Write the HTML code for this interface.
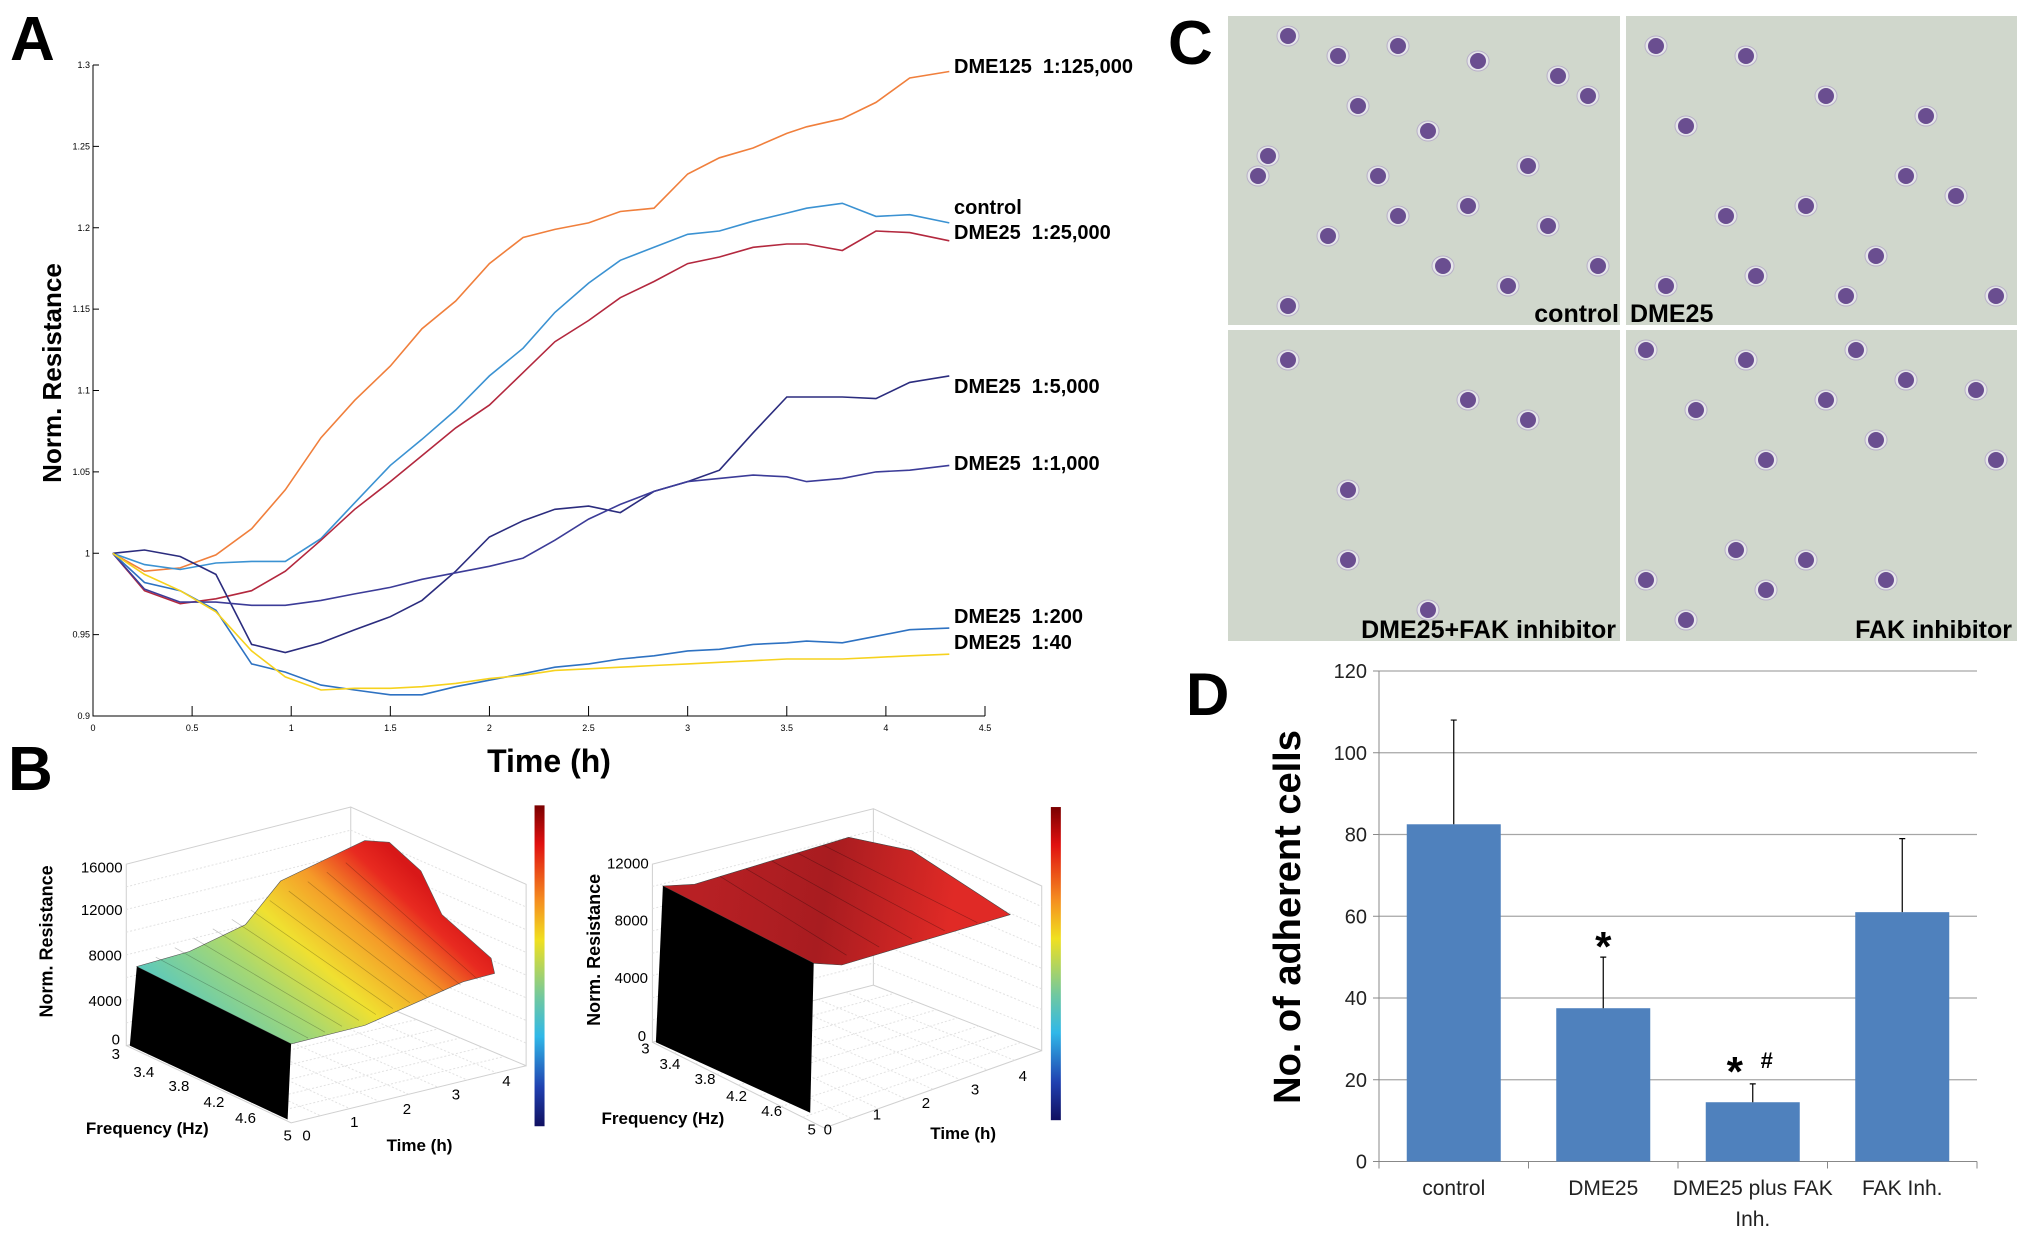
<!DOCTYPE html>
<html><head><meta charset="utf-8"><style>
html,body{margin:0;padding:0;background:#fff;}
svg{display:block;font-family:"Liberation Sans",sans-serif;}
.pre{white-space:pre;}
</style></head><body>
<svg id="fig" width="2031" height="1243" viewBox="0 0 2031 1243" xmlns="http://www.w3.org/2000/svg">
<defs>
<linearGradient id="jet" x1="0" y1="0" x2="0" y2="1">
<stop offset="0" stop-color="#7a0000"/><stop offset="0.12" stop-color="#e01010"/><stop offset="0.3" stop-color="#f59020"/><stop offset="0.42" stop-color="#f0e020"/><stop offset="0.6" stop-color="#70c8a0"/><stop offset="0.72" stop-color="#30b8e8"/><stop offset="0.88" stop-color="#2040b0"/><stop offset="1" stop-color="#101060"/>
</linearGradient>
<linearGradient id="surfL" gradientUnits="userSpaceOnUse" x1="200" y1="1030" x2="380" y2="840">
<stop offset="0" stop-color="#58c8c0"/><stop offset="0.3" stop-color="#a8d870"/><stop offset="0.5" stop-color="#f0e030"/><stop offset="0.72" stop-color="#f59a28"/><stop offset="0.9" stop-color="#e82a20"/><stop offset="1" stop-color="#d81818"/>
</linearGradient>
<linearGradient id="surfR" gradientUnits="userSpaceOnUse" x1="700" y1="880" x2="950" y2="920">
<stop offset="0" stop-color="#b82024"/><stop offset="0.5" stop-color="#a81c20"/><stop offset="1" stop-color="#e02a26"/>
</linearGradient>
</defs>
<g id="panelA"></g>
<g id="panelB"></g>
<g id="panelC"></g>
<g id="panelD"></g>
</svg>
<script>
// ---------- Panel A data ----------
const timesA = [0.1,0.26,0.44,0.62,0.8,0.97,1.15,1.32,1.5,1.66,1.83,2.0,2.17,2.33,2.5,2.66,2.83,3.0,3.16,3.33,3.5,3.6,3.78,3.95,4.12,4.32];
const dme125 = [1.000,0.989,0.991,0.999,1.015,1.039,1.071,1.094,1.115,1.138,1.155,1.178,1.194,1.199,1.203,1.210,1.212,1.233,1.243,1.249,1.258,1.262,1.267,1.277,1.292,1.296];
const control = [1.000,0.993,0.990,0.994,0.995,0.995,1.009,1.031,1.054,1.070,1.088,1.109,1.126,1.148,1.166,1.180,1.188,1.196,1.198,1.204,1.209,1.212,1.215,1.207,1.208,1.203];
const dme25k = [1.000,0.977,0.969,0.972,0.977,0.989,1.008,1.027,1.044,1.060,1.077,1.091,1.111,1.130,1.143,1.157,1.167,1.178,1.182,1.188,1.190,1.190,1.186,1.198,1.197,1.192];
const dme5k = [1.000,1.002,0.998,0.987,0.944,0.939,0.945,0.953,0.961,0.971,0.989,1.010,1.020,1.027,1.029,1.025,1.038,1.044,1.051,1.074,1.096,1.096,1.096,1.095,1.105,1.109];
const dme1k = [1.000,0.978,0.970,0.970,0.968,0.968,0.971,0.975,0.979,0.984,0.988,0.992,0.997,1.008,1.021,1.030,1.038,1.044,1.046,1.048,1.047,1.044,1.046,1.050,1.051,1.054];
const dme200 = [1.000,0.982,0.977,0.965,0.932,0.927,0.919,0.916,0.913,0.913,0.918,0.922,0.926,0.930,0.932,0.935,0.937,0.940,0.941,0.944,0.945,0.946,0.945,0.949,0.953,0.954];
const dme40 = [1.000,0.987,0.977,0.964,0.940,0.924,0.916,0.917,0.917,0.918,0.920,0.923,0.925,0.928,0.929,0.930,0.931,0.932,0.933,0.934,0.935,0.935,0.935,0.936,0.937,0.938];
const xTicksA = ["0","0.5","1","1.5","2","2.5","3","3.5","4","4.5"];
const yTicksA = ["0.9","0.95","1","1.05","1.1","1.15","1.2","1.25","1.3"];
const seriesLabelsA = ["DME125  1:125,000","control","DME25  1:25,000","DME25  1:5,000","DME25  1:1,000","DME25  1:200","DME25  1:40"];
// ---------- Panel D data ----------
const catsD = ["control","DME25","DME25 plus FAK|Inh.","FAK Inh."];
const meansD = [82.5,37.5,14.5,61];
const errD = [25.5,12.5,4.5,18];
const yTicksD = [0,20,40,60,80,100,120];

const NS="http://www.w3.org/2000/svg";
function mk(parent,tag,attrs,text){const e=document.createElementNS(NS,tag);for(const k in attrs)e.setAttribute(k,attrs[k]);if(text!==undefined)e.textContent=text;parent.appendChild(e);return e;}

// ---------- Panel A ----------
(function(){
const g=document.getElementById('panelA');
const x=t=>93+t*(985-93)/4.5;
const y=v=>716-(v-0.9)*(716-65)/0.4;
let t=mk(g,'text',{x:10,y:60,'font-size':62,'font-weight':'bold'},'A');

let ax=mk(g,'path',{d:`M93,65 V716 H985`,stroke:'#000',fill:'none','stroke-width':1});

xTicksA.forEach(s=>{const v=parseFloat(s);const px=x(v);
 mk(g,'line',{x1:px,y1:716,x2:px,y2:706,stroke:'#000'});
 const l=mk(g,'text',{x:px,y:731,'font-size':9,'text-anchor':'middle'},s);
 });
yTicksA.forEach(s=>{const v=parseFloat(s);const py=y(v);
 mk(g,'line',{x1:93,y1:py,x2:99,y2:py,stroke:'#000'});
 const l=mk(g,'text',{x:90,y:py+3,'font-size':9,'text-anchor':'end'},s);
 });
const ser=[[dme125,'#f07f3c','dme125-line'],[control,'#3b92d2','control-line'],[dme25k,'#b3283e','dme25-25000-line'],[dme5k,'#2b2c7e','dme25-5000-line'],[dme1k,'#3c3c98','dme25-1000-line'],[dme200,'#2e72c2','dme25-200-line'],[dme40,'#f6d21e','dme25-40-line']];
ser.forEach(([vals,col,nm])=>{
 const d=vals.map((v,i)=>(i?'L':'M')+x(timesA[i]).toFixed(1)+','+y(v).toFixed(1)).join(' ');
 const p=mk(g,'path',{d:d,stroke:col,fill:'none','stroke-width':1.6});
 });
const labY=[73,214,239,393,470,623,649];
seriesLabelsA.forEach((s,i)=>{const l=mk(g,'text',{x:954,y:labY[i],'font-size':20,'font-weight':'bold','class':'pre'},s);
 });
let yt=mk(g,'text',{x:0,y:0,'font-size':26,'font-weight':'bold','text-anchor':'middle',transform:'translate(61,373) rotate(-90)'},'Norm. Resistance');

let xt=mk(g,'text',{x:549,y:772,'font-size':32,'font-weight':'bold','text-anchor':'middle'},'Time (h)');

})();

// ---------- Panel B ----------
(function(){
const g=document.getElementById('panelB');
const X=dx=>dx*0.7015, Y=dy=>760+dy*0.336;
const P=a=>a.map(p=>X(p[0]).toFixed(1)+','+Y(p[1]).toFixed(1)).join(' ');
let b=mk(g,'text',{x:8,y:790,'font-size':62,'font-weight':'bold'},'B');

function box(c){
 const s='#d0d0d0';
 mk(g,'path',{d:`M${X(c.l)},${Y(c.lt)} V${Y(c.lb)} L${X(c.b)},${Y(c.bb)} V${Y(c.bt)} Z M${X(c.b)},${Y(c.bb)} L${X(c.r)},${Y(c.rb)} V${Y(c.rt)} L${X(c.b)},${Y(c.bt)} M${X(c.l)},${Y(c.lb)} L${X(c.f)},${Y(c.fb)} L${X(c.r)},${Y(c.rb)}`,stroke:s,fill:'none','stroke-width':1});
 for(let i=1;i<8;i++){const f=i/8;
  mk(g,'line',{x1:X(c.l),y1:Y(c.lt+(c.lb-c.lt)*f),x2:X(c.b),y2:Y(c.bt+(c.bb-c.bt)*f),stroke:'#e2e2e2','stroke-dasharray':'2,2'});
  mk(g,'line',{x1:X(c.b),y1:Y(c.bt+(c.bb-c.bt)*f),x2:X(c.r),y2:Y(c.rt+(c.rb-c.rt)*f),stroke:'#e2e2e2','stroke-dasharray':'2,2'});
  mk(g,'line',{x1:X(c.l+(c.b-c.l)*f),y1:Y(c.lb+(c.bb-c.lb)*f),x2:X(c.f+(c.r-c.f)*f),y2:Y(c.fb+(c.rb-c.fb)*f),stroke:'#e2e2e2','stroke-dasharray':'2,2'});
  mk(g,'line',{x1:X(c.l+(c.f-c.l)*f),y1:Y(c.lb+(c.fb-c.lb)*f),x2:X(c.b+(c.r-c.b)*f),y2:Y(c.bb+(c.rb-c.bb)*f),stroke:'#e2e2e2','stroke-dasharray':'2,2'});
 }
}
box({l:180,lt:310,lb:850,b:500,bt:140,bb:690,r:750,rt:370,rb:910,f:415,fb:1080});
box({l:930,lt:310,lb:840,b:1245,bt:145,bb:670,r:1485,rt:375,rb:865,f:1175,fb:1095});
let s1=mk(g,'polygon',{points:P([[195,615],[270,570],[350,490],[400,360],[470,290],[520,240],[555,245],[600,330],[630,460],[700,590],[705,635],[660,660],[520,790],[415,845]]),fill:'url(#surfL)',stroke:'#555','stroke-width':0.6});

for(let i=1;i<12;i++){const f=i/12;mk(g,'line',{x1:X(195+(520-195)*f),y1:Y(615+(240-615)*f*0.9),x2:X(415+(705-415)*f),y2:Y(845+(635-845)*f),stroke:'#000','stroke-opacity':0.25,'stroke-width':0.7});}
let w1=mk(g,'polygon',{points:P([[195,615],[185,850],[410,1070],[415,845]]),fill:'#000'});

let s2=mk(g,'polygon',{points:P([[945,375],[990,370],[1210,230],[1300,270],[1440,460],[1200,610],[1160,605]]),fill:'url(#surfR)',stroke:'#444','stroke-width':0.6});

for(let i=1;i<6;i++){const f=i/6;mk(g,'line',{x1:X(990+(1210-990)*f),y1:Y(370+(230-370)*f),x2:X(1160+(1440-1160)*f),y2:Y(605+(460-605)*f),stroke:'#000','stroke-opacity':0.3,'stroke-width':0.7});}
let w2=mk(g,'polygon',{points:P([[945,375],[935,840],[1155,1050],[1160,605]]),fill:'#000'});

[[762,135,1090,'colorbar-left'],[1498,140,1072,'colorbar-right']].forEach(([cx,t,bt,nm])=>{
 const r=mk(g,'rect',{x:X(cx),y:Y(t),width:10,height:Y(bt)-Y(t),fill:'url(#jet)'});
 });
const T=(dx,dy,s,fs,nm,anchor)=>{const e=mk(g,'text',{x:X(dx),y:Y(dy),'font-size':fs,'text-anchor':anchor||'middle'},s);return e;};
[[145,320,'16000'],[145,447,'12000'],[150,582,'8000'],[150,717,'4000'],[165,832,'0'],[895,308,'12000'],[900,478,'8000'],[900,648,'4000'],[915,822,'0']].forEach(a=>T(a[0],a[1]+15,a[2],15,'z-tick-label'));
[[165,875,'3'],[205,928,'3.4'],[255,970,'3.8'],[305,1018,'4.2'],[350,1065,'4.6'],[410,1118,'5'],[920,858,'3'],[955,905,'3.4'],[1005,950,'3.8'],[1050,1000,'4.2'],[1100,1045,'4.6'],[1157,1100,'5']].forEach(a=>T(a[0],a[1]+15,a[2],15,'frequency-tick-label'));
[[437,1118,'0'],[505,1078,'1'],[580,1038,'2'],[650,995,'3'],[722,955,'4'],[1180,1100,'0'],[1250,1055,'1'],[1320,1020,'2'],[1390,980,'3'],[1458,940,'4']].forEach(a=>T(a[0],a[1]+15,a[2],15,'time-tick-label'));
[[210,1095],[945,1065]].forEach(a=>{const e=T(a[0],a[1]+18,'Frequency (Hz)',17,'frequency-axis-title');e.setAttribute('font-weight','bold');});
[[598,1145],[1373,1110]].forEach(a=>{const e=T(a[0],a[1]+18,'Time (h)',17,'time-axis-title');e.setAttribute('font-weight','bold');});
[[65,540],[845,565]].forEach(a=>{const e=mk(g,'text',{x:0,y:0,'font-size':18,'font-weight':'bold','text-anchor':'middle',transform:`translate(${X(a[0])+7},${Y(a[1])}) rotate(-90)`},'Norm. Resistance');});
})();

// ---------- Panel C ----------
(function(){
const g=document.getElementById('panelC');
let c=mk(g,'text',{x:1168,y:64,'font-size':62,'font-weight':'bold'},'C');

const imgs=[[1228,16,392,309,'micrograph-control'],[1626,16,391,309,'micrograph-dme25'],[1228,330,392,311,'micrograph-dme25-fak'],[1626,330,391,311,'micrograph-fak']];
const cells=[
[[60,20],[110,40],[170,30],[250,45],[330,60],[40,140],[130,90],[200,115],[300,150],[360,80],[100,220],[170,200],[215,250],[280,270],[60,290],[30,160],[240,190],[370,250],[320,210],[150,160]],
[[30,30],[120,40],[200,80],[60,110],[300,100],[180,190],[250,240],[130,260],[220,280],[330,180],[100,200],[280,160],[370,280],[40,270]],
[[120,160],[240,70],[300,90],[200,280],[120,230],[60,30]],
[[20,20],[120,30],[230,20],[280,50],[350,60],[70,80],[200,70],[250,110],[140,130],[370,130],[110,220],[180,230],[140,260],[60,290],[260,250],[20,250]]];
imgs.forEach((im,k)=>{
 const r=mk(g,'rect',{x:im[0],y:im[1],width:im[2],height:im[3],fill:'#d0d7cc'});
 
 cells[k].forEach(p=>{mk(g,'ellipse',{cx:im[0]+p[0],cy:im[1]+p[1],rx:11,ry:10,fill:'#e6e6ea',stroke:'#b8b0c8'});
  mk(g,'ellipse',{cx:im[0]+p[0],cy:im[1]+p[1],rx:8,ry:8,fill:'#6a4e90'});});
});
const labs=[[1619,322,'control','end'],[1630,322,'DME25','start'],[1616,638,'DME25+FAK inhibitor','end'],[2012,638,'FAK inhibitor','end']];
labs.forEach(l=>{const e=mk(g,'text',{x:l[0],y:l[1],'font-size':25,'font-weight':'bold','text-anchor':l[3]},l[2]);
 });
})();

// ---------- Panel D ----------
(function(){
const g=document.getElementById('panelD');
const x0=1379,x1=1977,yb=1161.5,yt=671;
const y=v=>yb-(v/120)*(yb-yt);
const step=(x1-x0)/catsD.length, bw=94;
let d=mk(g,'text',{x:1186,y:715,'font-size':60,'font-weight':'bold'},'D');

yTicksD.forEach(v=>{if(v>0){const gl=mk(g,'line',{x1:x0,y1:y(v),x2:x1,y2:y(v),stroke:'#a6a6a6','stroke-width':1.2});}
 mk(g,'line',{x1:x0-6,y1:y(v),x2:x0,y2:y(v),stroke:'#888'});
 const l=mk(g,'text',{x:x0-12,y:y(v)+7,'font-size':20,'text-anchor':'end',fill:'#222'},String(v));
 });
mk(g,'line',{x1:x0,y1:yt,x2:x0,y2:yb,stroke:'#888'});
mk(g,'line',{x1:x0,y1:yb,x2:x1,y2:yb,stroke:'#888'});
for(let i=0;i<=catsD.length;i++)mk(g,'line',{x1:x0+i*step,y1:yb,x2:x0+i*step,y2:yb+7,stroke:'#888'});
catsD.forEach((c,i)=>{const cx=x0+step*(i+0.5);
 const r=mk(g,'rect',{x:cx-bw/2,y:y(meansD[i]),width:bw,height:yb-y(meansD[i]),fill:'#4f81bd'});
 
 const e=mk(g,'path',{d:`M${cx},${y(meansD[i])} V${y(meansD[i]+errD[i])} M${cx-3},${y(meansD[i]+errD[i])} H${cx+3}`,stroke:'#000','stroke-width':1.2,fill:'none'});
 
 c.split('|').forEach((s,j)=>{const l=mk(g,'text',{x:cx,y:1195+j*31,'font-size':21,'text-anchor':'middle',fill:'#222'},s);
  });
});
let a1=mk(g,'text',{x:x0+step*1.5,y:y(meansD[1]+errD[1])+4,'font-size':42,'font-weight':'bold','text-anchor':'middle'},'*');

let a2=mk(g,'text',{x:x0+step*2.5-18,y:y(meansD[2]+errD[2])+2,'font-size':42,'font-weight':'bold','text-anchor':'middle'},'*');

let a3=mk(g,'text',{x:x0+step*2.5+14,y:y(meansD[2]+errD[2])-16,'font-size':22,'font-weight':'bold','text-anchor':'middle'},'#');

let t=mk(g,'text',{x:0,y:0,'font-size':38,'font-weight':'bold','text-anchor':'middle',transform:'translate(1300,917) rotate(-90)'},'No. of adherent cells');

})();
</script>
</body></html>
